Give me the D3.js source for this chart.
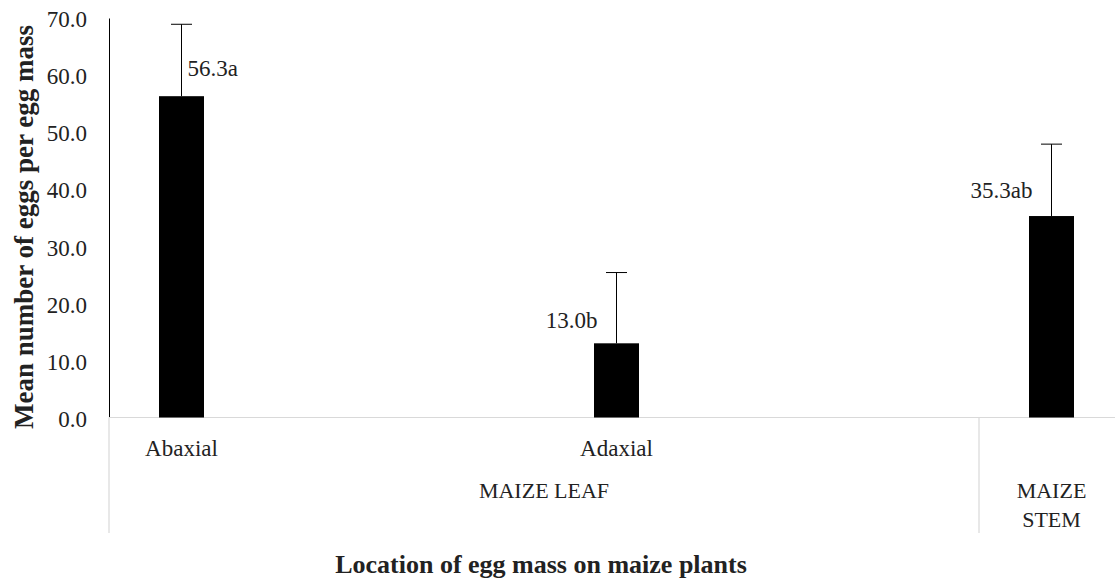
<!doctype html>
<html lang="en">
    <head>
        <meta charset="utf-8">
        <title>Mean number of eggs per egg mass</title>
        <style>
            body { margin: 0; background: #fff; }
            text { font-family: "Liberation Serif", "Times New Roman", serif; fill: #222; }
        </style>
    </head>
    <body>
        <div id="chart"></div>

        <script src="https://d3js.org/d3.v7.min.js"></script>
        <script>
            // data
            var categories = ["Abaxial", "Adaxial", ""];
            var slots = [0, 3, 6];              // position of each bar among the 7 category slots
            var means = [56.3, 13.0, 35.3];
            var errors = [12.6, 12.4, 12.6];
            var letters = ["a", "b", "ab"];
            var groupNames = [["MAIZE LEAF"], ["MAIZE", "STEM"]];
            var groupFrom = [0, 6];
            var groupTo = [6, 7];
            var yTicks = [0, 10, 20, 30, 40, 50, 60, 70];

            var width = 1115, height = 584;
            var plotLeft = 109, plotRight = 1124, plotTop = 18, plotBase = 417.5;

            var svg = d3.select("#chart").append("svg")
                .attr("width", width)
                .attr("height", height);

            var x = d3.scaleBand().domain(d3.range(7)).range([plotLeft, plotRight]);
            var y = d3.scaleLinear().domain([0, 70]).range([plotBase, plotTop]);
            var barW = 45;

            // y axis
            var yAxis = svg.append("g")
                .attr("transform", "translate(" + plotLeft + ",0)")
                .call(d3.axisLeft(y).tickValues(yTicks).tickSize(0).tickPadding(22)
                    .tickFormat(d3.format(".1f")));
            yAxis.select(".domain").attr("stroke", "#000").attr("stroke-width", 1);
            yAxis.selectAll("text")
                .style("font-size", "23px")
                .style("font-family", "'Liberation Serif', serif")
                .attr("dy", "0.38em")
                .attr("fill", "#222");

            // category axis: baseline and group dividers
            svg.append("line")
                .attr("x1", plotLeft).attr("x2", plotRight)
                .attr("y1", plotBase).attr("y2", plotBase)
                .attr("stroke", "#d9d9d9").attr("stroke-width", 1.2);

            svg.selectAll(".divider")
                .data(groupFrom)
                .enter().append("line")
                .attr("class", "divider")
                .attr("x1", function(d) { return x(d); })
                .attr("x2", function(d) { return x(d); })
                .attr("y1", plotBase).attr("y2", 533)
                .attr("stroke", "#d9d9d9").attr("stroke-width", 1.2);

            // bars
            svg.selectAll(".bar")
                .data(means)
                .enter().append("rect")
                .attr("class", "bar")
                .attr("x", function(d, i) { return x(slots[i]) + x.bandwidth() / 2 - barW / 2; })
                .attr("y", function(d) { return y(d); })
                .attr("width", barW)
                .attr("height", function(d) { return plotBase - y(d); })
                .attr("fill", "#000");

            // error bars (upper only)
            var eb = svg.selectAll(".err")
                .data(means)
                .enter().append("g")
                .attr("class", "err")
                .attr("transform", function(d, i) { return "translate(" + (x(slots[i]) + x.bandwidth() / 2) + ",0)"; });
            eb.append("line")
                .attr("x1", 0).attr("x2", 0)
                .attr("y1", function(d) { return y(d); })
                .attr("y2", function(d, i) { return y(d + errors[i]); })
                .attr("stroke", "#000").attr("stroke-width", 1);
            eb.append("line")
                .attr("x1", -10.5).attr("x2", 10.5)
                .attr("y1", function(d, i) { return y(d + errors[i]); })
                .attr("y2", function(d, i) { return y(d + errors[i]); })
                .attr("stroke", "#000").attr("stroke-width", 1);

            // data labels (first sits right of its error bar, the others to the left)
            var labelDx = [6, -19, -19];
            var labelDy = [-20, -15, -18];
            svg.selectAll(".lab")
                .data(means)
                .enter().append("text")
                .attr("class", "lab")
                .attr("x", function(d, i) { return x(slots[i]) + x.bandwidth() / 2 + labelDx[i]; })
                .attr("y", function(d, i) { return y(d) + labelDy[i]; })
                .attr("text-anchor", function(d, i) { return i === 0 ? "start" : "end"; })
                .style("font-size", "23px")
                .text(function(d, i) { return d.toFixed(1) + letters[i]; });

            // category labels
            svg.selectAll(".cat")
                .data(categories)
                .enter().append("text")
                .attr("class", "cat")
                .attr("x", function(d, i) { return x(slots[i]) + x.bandwidth() / 2; })
                .attr("y", 455.5)
                .attr("text-anchor", "middle")
                .style("font-size", "23px")
                .text(function(d) { return d; });

            // group labels
            var grp = svg.selectAll(".grp")
                .data(groupNames)
                .enter().append("text")
                .attr("class", "grp")
                .attr("text-anchor", "middle")
                .style("font-size", "22px");
            grp.selectAll("tspan")
                .data(function(d, i) { return d.map(function(t) { return { t: t, g: i }; }); })
                .enter().append("tspan")
                .attr("x", function(d) { return (x(groupFrom[d.g]) + (groupTo[d.g] < 7 ? x(groupTo[d.g]) : plotRight)) / 2; })
                .attr("y", function(d, j) { return 498 + j * 29; })
                .text(function(d) { return d.t; });

            // axis titles
            svg.append("text")
                .attr("transform", "translate(33," + 227 + ") rotate(-90)")
                .attr("text-anchor", "middle")
                .style("font-size", "27px")
                .style("font-weight", "bold")
                .attr("fill", "#000")
                .text("Mean number of eggs per egg mass");

            svg.append("text")
                .attr("x", 541)
                .attr("y", 573)
                .attr("text-anchor", "middle")
                .style("font-size", "26px")
                .style("font-weight", "bold")
                .attr("fill", "#000")
                .text("Location of egg mass on maize plants");
        </script>
    </body>
</html>
